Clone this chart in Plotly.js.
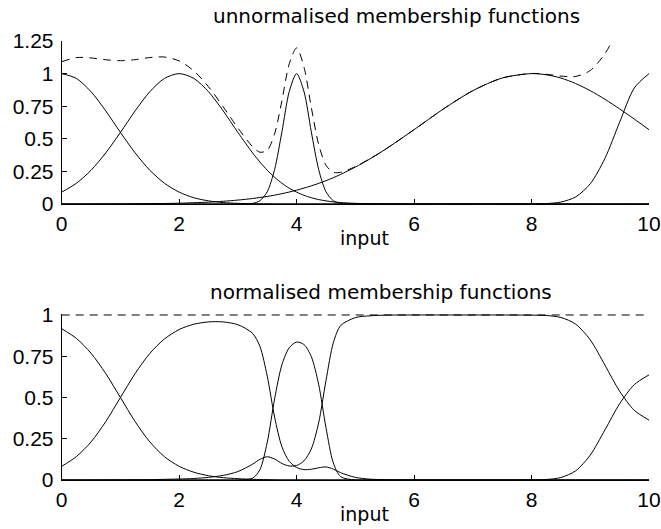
<!DOCTYPE html>
<html>
<head>
<meta charset="utf-8">
<script src="https://cdn.plot.ly/plotly-3.0.1.min.js"></script>
<style>
  html, body { margin: 0; padding: 0; background: #fff; }
  #chart { width: 661px; height: 529px; }
</style>
</head>
<body>
<div id="chart"></div>
<script>
// Sample positions along the input axis (denser around the narrow bump at 4)
const inputX = [0, 0.25, 0.5, 0.75, 1, 1.25, 1.5, 1.75, 2, 2.25, 2.5, 2.75, 3,
  3.25, 3.375, 3.5, 3.625, 3.75, 3.875, 4, 4.125, 4.25, 4.375, 4.5, 4.625, 4.75,
  5, 5.25, 5.5, 6, 6.5, 7, 7.5, 8, 8.25, 8.5, 8.75, 9, 9.25, 9.5, 9.75, 10];

// Unnormalised membership functions
const mfA = [1, 0.963, 0.861, 0.714, 0.549, 0.392, 0.259, 0.159, 0.091, 0.048, 0.024, 0.011, 0.005,
  0.002, 0.001, 0.001, 0, 0, 0, 0, 0, 0, 0, 0, 0, 0,
  0, 0, 0, 0, 0, 0, 0, 0, 0, 0, 0, 0, 0, 0, 0, 0];
const mfB = [0.091, 0.159, 0.259, 0.392, 0.549, 0.714, 0.861, 0.963, 1, 0.963, 0.861, 0.714, 0.549,
  0.392, 0.322, 0.259, 0.205, 0.159, 0.121, 0.091, 0.067, 0.048, 0.034, 0.024, 0.016, 0.011,
  0.005, 0.002, 0.001, 0, 0, 0, 0, 0, 0, 0, 0, 0, 0, 0, 0, 0];
const mfC = [0, 0, 0, 0, 0, 0, 0, 0, 0, 0, 0, 0, 0,
  0.005, 0.025, 0.094, 0.265, 0.554, 0.863, 1, 0.863, 0.554, 0.265, 0.094, 0.025, 0.005,
  0, 0, 0, 0, 0, 0, 0, 0, 0, 0, 0, 0, 0, 0, 0, 0];
const mfD = [0, 0, 0, 0.001, 0.001, 0.002, 0.003, 0.004, 0.006, 0.010, 0.014, 0.021, 0.030,
  0.042, 0.050, 0.058, 0.068, 0.079, 0.092, 0.106, 0.122, 0.139, 0.158, 0.179, 0.202, 0.227,
  0.283, 0.346, 0.416, 0.570, 0.729, 0.869, 0.966, 1, 0.991, 0.966, 0.924, 0.869, 0.803, 0.729, 0.651, 0.570];
const mfE = [0, 0, 0, 0, 0, 0, 0, 0, 0, 0, 0, 0, 0,
  0, 0, 0, 0, 0, 0, 0, 0, 0, 0, 0, 0, 0,
  0, 0, 0, 0, 0, 0, 0, 0.001, 0.003, 0.015, 0.054, 0.155, 0.350, 0.627, 0.890, 1];
const mfSum = [1.091, 1.123, 1.120, 1.106, 1.099, 1.107, 1.123, 1.127, 1.097, 1.021, 0.899, 0.745, 0.583,
  0.440, 0.397, 0.412, 0.538, 0.793, 1.076, 1.197, 1.051, 0.741, 0.457, 0.297, 0.243, 0.243,
  0.287, 0.348, 0.416, 0.570, 0.729, 0.869, 0.966, 1.001, 0.995, 0.981, 0.978, 1.024, 1.153, 1.356, 1.540, 1.570];

// Normalised membership functions
const nmfA = [0.917, 0.858, 0.768, 0.645, 0.500, 0.354, 0.231, 0.141, 0.083, 0.047, 0.026, 0.014, 0.008,
  0.004, 0.003, 0.002, 0.001, 0, 0, 0, 0, 0, 0, 0, 0, 0,
  0, 0, 0, 0, 0, 0, 0, 0, 0, 0, 0, 0, 0, 0, 0, 0];
const nmfB = [0.083, 0.142, 0.231, 0.354, 0.500, 0.645, 0.767, 0.855, 0.912, 0.944, 0.958, 0.958, 0.941,
  0.889, 0.810, 0.629, 0.381, 0.201, 0.113, 0.076, 0.063, 0.065, 0.074, 0.079, 0.066, 0.044,
  0.016, 0.005, 0.002, 0, 0, 0, 0, 0, 0, 0, 0, 0, 0, 0, 0, 0];
const nmfC = [0, 0, 0, 0, 0, 0, 0, 0, 0, 0, 0, 0, 0,
  0.011, 0.063, 0.229, 0.492, 0.699, 0.802, 0.836, 0.821, 0.748, 0.580, 0.317, 0.103, 0.020,
  0, 0, 0, 0, 0, 0, 0, 0, 0, 0, 0, 0, 0, 0, 0, 0];
const nmfD = [0, 0, 0, 0.001, 0.001, 0.002, 0.002, 0.004, 0.006, 0.009, 0.016, 0.028, 0.051,
  0.096, 0.125, 0.141, 0.127, 0.100, 0.085, 0.088, 0.116, 0.188, 0.346, 0.603, 0.832, 0.936,
  0.984, 0.995, 0.999, 1, 1, 1, 1, 0.999, 0.997, 0.985, 0.945, 0.849, 0.696, 0.538, 0.422, 0.363];
const nmfE = [0, 0, 0, 0, 0, 0, 0, 0, 0, 0, 0, 0, 0,
  0, 0, 0, 0, 0, 0, 0, 0, 0, 0, 0, 0, 0,
  0, 0, 0, 0, 0, 0, 0, 0.001, 0.003, 0.015, 0.055, 0.151, 0.304, 0.462, 0.578, 0.637];
// Normalised functions always add up to one
const nmfSumX = [0, 10];
const nmfSum = [1, 1];

// Axis ticks
const xTicks = [0, 2, 4, 6, 8, 10];
const yTicksTop = [0, 0.25, 0.5, 0.75, 1, 1.25];
const yLabelsTop = ['0', '0.25', '0.5', '0.75', '1', '1.25'];
const yTicksBottom = [0, 0.25, 0.5, 0.75, 1];
const yLabelsBottom = ['0', '0.25', '0.5', '0.75', '1'];

const TICK_FONT = 'Liberation Sans, Arial, Helvetica, sans-serif';
const TEXT_FONT = 'DejaVu Sans, Arial, sans-serif';
const W = 661, H = 529;

const solid = { color: 'black', width: 1, shape: 'spline', smoothing: 0.8 };
const dashed = { color: 'black', width: 1, dash: '8px,6px', shape: 'spline', smoothing: 0.8 };

function curve(x, y, line, xa, ya) {
  return { type: 'scatter', mode: 'lines', x: x, y: y, line: line,
           xaxis: xa, yaxis: ya, hoverinfo: 'skip' };
}

const traces = [
  curve(inputX, mfA, solid, 'x', 'y'),
  curve(inputX, mfB, solid, 'x', 'y'),
  curve(inputX, mfC, solid, 'x', 'y'),
  curve(inputX, mfD, solid, 'x', 'y'),
  curve(inputX, mfE, solid, 'x', 'y'),
  curve(inputX, mfSum, dashed, 'x', 'y'),
  curve(inputX, nmfA, solid, 'x2', 'y2'),
  curve(inputX, nmfB, solid, 'x2', 'y2'),
  curve(inputX, nmfC, solid, 'x2', 'y2'),
  curve(inputX, nmfD, solid, 'x2', 'y2'),
  curve(inputX, nmfE, solid, 'x2', 'y2'),
  curve(nmfSumX, nmfSum, { color: 'black', width: 1, dash: '8px,6px' }, 'x2', 'y2')
];

// pixel helpers for domains / annotation placement
const px = v => v / W;
const py = v => (H - v) / H;

const xCommon = {
  range: [0, 10], tickvals: xTicks, ticktext: xTicks.map(String),
  ticks: 'inside', ticklen: 5, tickwidth: 1, tickcolor: 'black',
  showline: true, linecolor: 'black', linewidth: 1,
  showgrid: false, zeroline: false, fixedrange: true,
  ticklabelstandoff: 1,
  tickfont: { family: TICK_FONT, size: 21, color: 'black' },
  domain: [px(61.7), px(649)]
};
const yCommon = {
  ticks: 'inside', ticklen: 5, tickwidth: 1, tickcolor: 'black',
  showline: true, linecolor: 'black', linewidth: 1,
  showgrid: false, zeroline: false, fixedrange: true,
  ticklabelstandoff: 3,
  tickfont: { family: TICK_FONT, size: 21, color: 'black' }
};

function label(text, xLeft, yMid, size) {
  return { text: text, xref: 'paper', yref: 'paper', x: px(xLeft), y: py(yMid),
           xanchor: 'left', yanchor: 'middle', showarrow: false,
           font: { family: TEXT_FONT, size: size, color: 'black' } };
}

const layout = {
  width: W, height: H,
  margin: { l: 0, r: 0, t: 0, b: 0 },
  paper_bgcolor: 'white', plot_bgcolor: 'white',
  showlegend: false,
  xaxis: Object.assign({}, xCommon, { anchor: 'y' }),
  yaxis: Object.assign({}, yCommon, {
    anchor: 'x', range: [0, 1.25], tickvals: yTicksTop, ticktext: yLabelsTop,
    domain: [py(204), py(41)]
  }),
  xaxis2: Object.assign({}, xCommon, { anchor: 'y2' }),
  yaxis2: Object.assign({}, yCommon, {
    anchor: 'x2', range: [0, 1.006], tickvals: yTicksBottom, ticktext: yLabelsBottom,
    domain: [py(480), py(314)]
  }),
  annotations: [
    label('unnormalised membership functions', 210.7, 16.5, 20),
    label('input', 338, 238.4, 19),
    label('normalised membership functions', 208, 292.4, 20),
    label('input', 338, 514.4, 19)
  ]
};

Plotly.newPlot('chart', traces, layout, { displayModeBar: false, staticPlot: true });
</script>
</body>
</html>
